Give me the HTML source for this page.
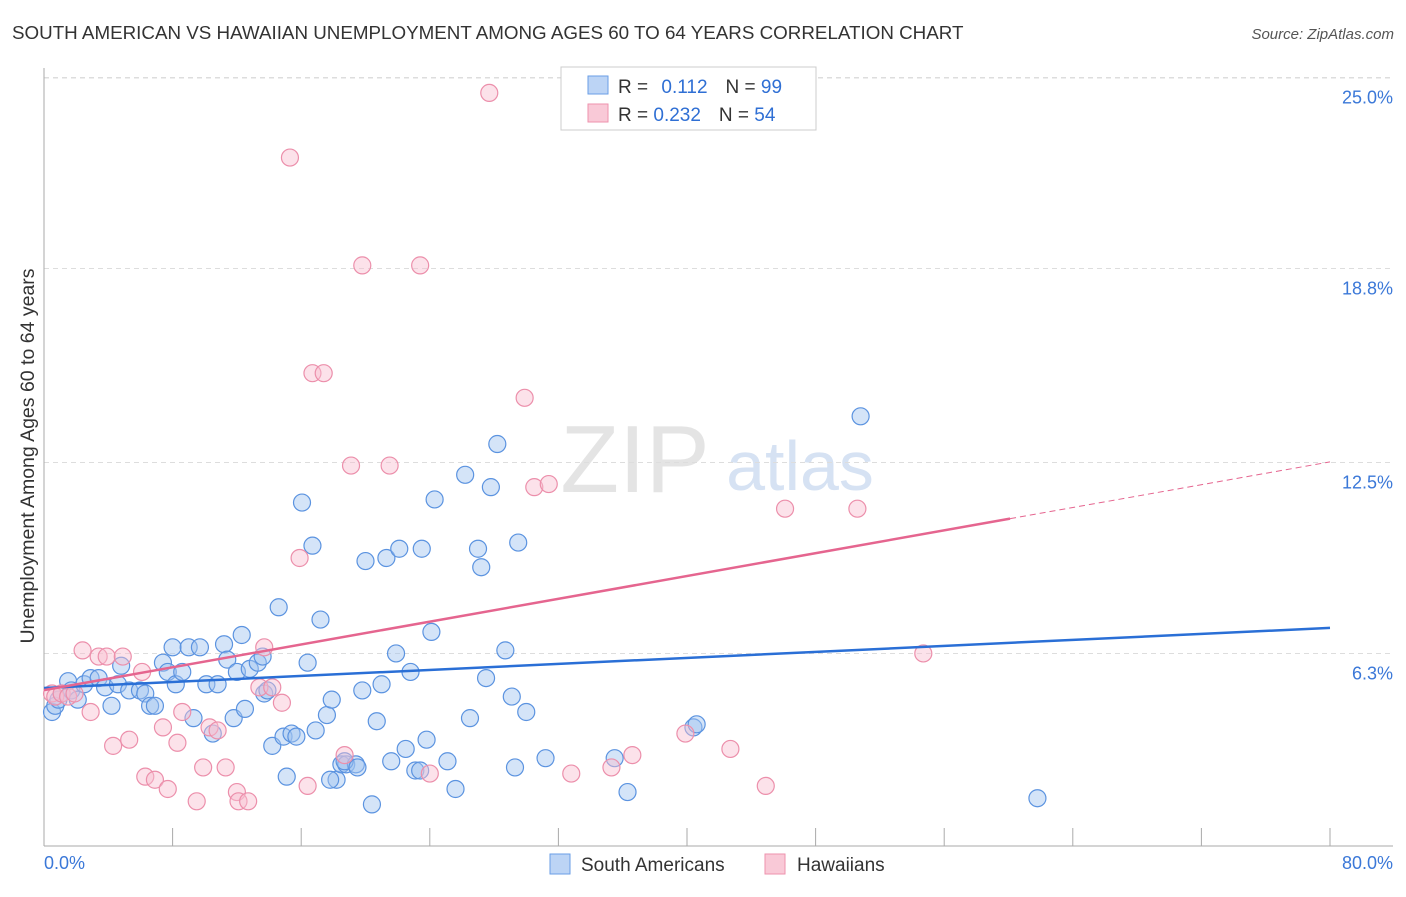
<!DOCTYPE html>
<html><head><meta charset="utf-8"><style>
body{margin:0;background:#fff;font-family:"Liberation Sans",sans-serif;}
svg text{font-family:"Liberation Sans",sans-serif;}
</style></head><body>
<svg id="chart" width="1406" height="892">
<text x="12" y="39" font-size="18.8" fill="#333">SOUTH AMERICAN VS HAWAIIAN UNEMPLOYMENT AMONG AGES 60 TO 64 YEARS CORRELATION CHART</text>
<text x="1394" y="39" font-size="15" fill="#555" font-style="italic" text-anchor="end">Source: ZipAtlas.com</text>
<text x="635" y="492" font-size="96" fill="#e4e4e4" font-family="Liberation Serif,serif" text-anchor="middle">ZIP</text>
<text x="800" y="490" font-size="70" fill="#d6e2f3" text-anchor="middle">atlas</text>
<g id="grid"></g>
<g id="axes"></g>
<g id="points"></g>
<g id="lines"></g>
<text x="34" y="456" font-size="19.5" fill="#333" text-anchor="middle" transform="rotate(-90 34 456)">Unemployment Among Ages 60 to 64 years</text>
<g>
<rect x="561" y="67" width="255" height="63" fill="#fff" stroke="#ccc"/>
<rect x="588" y="76" width="20" height="18" fill="#bcd4f5" stroke="#6a9ee6"/>
<rect x="588" y="104" width="20" height="18" fill="#f9c9d7" stroke="#ee92ad"/>
<text x="618" y="93" font-size="19" fill="#333">R = <tspan fill="#2f6fd4" dx="8">0.112</tspan><tspan dx="18" fill="#333">N = </tspan><tspan fill="#2f6fd4">99</tspan></text>
<text x="618" y="121" font-size="19" fill="#333">R = <tspan fill="#2f6fd4">0.232</tspan><tspan dx="18" fill="#333">N = </tspan><tspan fill="#2f6fd4">54</tspan></text>
</g>
<g>
<rect x="550" y="854" width="20" height="20" fill="#bcd4f5" stroke="#6a9ee6"/>
<text x="581" y="871" font-size="19" fill="#333">South Americans</text>
<rect x="765" y="854" width="20" height="20" fill="#f9c9d7" stroke="#ee92ad"/>
<text x="797" y="871" font-size="19" fill="#333">Hawaiians</text>
</g>
</svg>
<script>
const yTicks=[6.3,12.5,18.8,25.0];
const xTickLabels=["0.0%","80.0%"];
const blueX=[0.5,0.7,0.9,1.1,1.5,1.7,2.1,2.5,2.9,3.4,3.8,4.2,4.6,4.8,5.3,5.97,6.3,6.6,6.9,7.4,7.7,8.2,8.6,8,9,9.3,9.7,10.1,10.5,10.8,11.2,11.4,11.8,12,12.3,12.5,12.8,13.3,13.6,13.7,13.9,14.2,14.6,14.9,15.1,15.4,15.7,16.05,16.4,16.7,16.9,17.2,17.6,17.9,18.2,18.5,18.8,19.4,19.8,20,20.4,20.7,21,21.3,21.6,21.9,22.1,22.5,22.8,23.1,23.5,23.8,24.1,24.3,25.1,25.6,26.2,26.5,27,27.2,27.5,27.8,28.2,28.7,29.1,29.3,29.5,30,31.2,35.5,36.3,40.4,40.6,50.8,61.8,18.7,23.4,17.8,19.5];
const blueY=[4.4,4.6,4.8,5.0,5.4,5.1,4.8,5.3,5.5,5.5,5.2,4.6,5.3,5.9,5.1,5.1,5.0,4.6,4.6,6.0,5.7,5.3,5.7,6.5,6.5,4.2,6.5,5.3,3.7,5.3,6.6,6.1,4.2,5.7,6.9,4.5,5.8,6.0,6.2,5.0,5.1,3.3,7.8,3.6,2.3,3.7,3.6,11.2,6.0,9.8,3.8,7.4,4.3,4.8,2.2,2.7,2.7,2.7,5.1,9.3,1.4,4.1,5.3,9.4,2.8,6.3,9.7,3.2,5.7,2.5,9.7,3.5,7.0,11.3,2.8,1.9,12.1,4.2,9.7,9.1,5.5,11.7,13.1,6.4,4.9,2.6,9.9,4.4,2.9,2.9,1.8,3.9,4.0,14.0,1.6,2.8,2.5,2.2,2.6];
const pinkX=[27.7,15.3,19.8,23.4,16.7,17.4,29.9,19.1,21.5,30.5,31.4,46.1,50.6,15.9,2.4,3.4,3.9,4.9,6.1,13.7,13.4,14.2,14.8,0.5,0.7,1.1,1.5,1.9,2.9,4.3,5.3,6.3,6.9,7.4,7.7,8.3,8.6,9.5,9.9,10.3,10.8,11.3,12,12.1,12.7,16.4,18.7,24,32.8,35.3,36.6,39.9,42.7,44.9,54.7];
const pinkY=[24.5,22.4,18.9,18.9,15.4,15.4,14.6,12.4,12.4,11.7,11.8,11.0,11.0,9.4,6.4,6.2,6.2,6.2,5.7,6.5,5.2,5.2,4.7,5.0,4.9,5.0,4.9,5.0,4.4,3.3,3.5,2.3,2.2,3.9,1.9,3.4,4.4,1.5,2.6,3.9,3.8,2.6,1.8,1.5,1.5,2.0,3.0,2.4,2.4,2.6,3.0,3.7,3.2,2.0,6.3];
const blueFit=[5.18,7.13];
const pinkFit=[5.11,12.52];
const pinkSolidEnd=60.1;
const X0=44,X1=1330,Y0=847.5,PXY=30.8;
const sx=v=>X0+(X1-X0)*v/80, sy=v=>Y0-v*PXY;
const NS="http://www.w3.org/2000/svg";
function mk(parent,tag,at){const e=document.createElementNS(NS,tag);for(const k in at)e.setAttribute(k,at[k]);document.getElementById(parent).appendChild(e);return e;}
yTicks.forEach((t,i)=>{
 const g=mk('grid','line',{x1:44,x2:1393,y1:sy(t),y2:sy(t),stroke:'#ddd','stroke-dasharray':'5,4'});
 
 
 const tx=mk('grid','text',{x:1393,y:sy(t)+26,'font-size':18,fill:'#3b78d8','text-anchor':'end'});
 tx.textContent=t.toFixed(1)+'%';
 
 
});
const topLine=mk('grid','line',{x1:44,x2:1393,y1:78,y2:78,stroke:'#ddd','stroke-dasharray':'5,4'});


const ya=mk('axes','line',{x1:44,x2:44,y1:68,y2:846,stroke:'#aaa'});


const xa=mk('axes','line',{x1:44,x2:1393,y1:846,y2:846,stroke:'#aaa'});


for(let i=1;i<=10;i++){const v=i*8;const tk=mk('axes','line',{x1:sx(v),x2:sx(v),y1:828,y2:846,stroke:'#aaa'});
 
 }
[[44,'start',0],[1393,'end',1]].forEach(([x,a,i])=>{const t=mk('axes','text',{x:x,y:869,'font-size':18,fill:'#3b78d8','text-anchor':a});t.textContent=xTickLabels[i];
 
 });
blueX.forEach((v,i)=>{const c=mk('points','circle',{cx:sx(v),cy:sy(blueY[i]),r:8.5,fill:'rgba(160,196,240,0.45)',stroke:'#5b93e0','stroke-width':1.2});
 
 });
pinkX.forEach((v,i)=>{const c=mk('points','circle',{cx:sx(v),cy:sy(pinkY[i]),r:8.5,fill:'rgba(248,190,208,0.45)',stroke:'#ec8fab','stroke-width':1.2});
 
 });
const bl=mk('lines','line',{x1:sx(0),y1:sy(blueFit[0]),x2:sx(80),y2:sy(blueFit[1]),stroke:'#2a6fd6','stroke-width':2.5});


const pe=pinkFit[0]+(pinkFit[1]-pinkFit[0])*pinkSolidEnd/80;
const pl=mk('lines','line',{x1:sx(0),y1:sy(pinkFit[0]),x2:sx(pinkSolidEnd),y2:sy(pe),stroke:'#e5658f','stroke-width':2.5});


const pd=mk('lines','line',{x1:sx(pinkSolidEnd),y1:sy(pe),x2:sx(80),y2:sy(pinkFit[1]),stroke:'#e5658f','stroke-width':1,'stroke-dasharray':'6,4'});


</script>
</body></html>
